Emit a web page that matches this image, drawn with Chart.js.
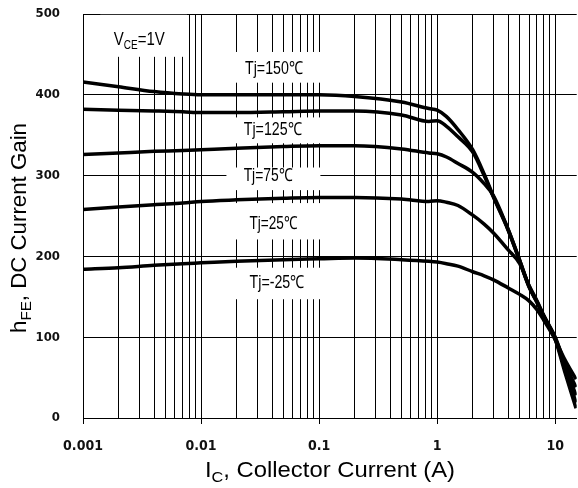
<!DOCTYPE html>
<html>
<head>
<meta charset="utf-8">
<script src="https://cdn.jsdelivr.net/npm/chart.js@4.4.1/dist/chart.umd.min.js"></script>
<style>
  html, body { margin: 0; padding: 0; background: #fff; }
  .wrap { position: relative; width: 578px; height: 488px; }
</style>
</head>
<body>
<div class="wrap"><canvas id="gain"></canvas></div>
<script>
// Ic, collector current (A)
const currentA = [0.001, 0.002, 0.004, 0.007, 0.01, 0.02, 0.05, 0.1, 0.2, 0.5, 0.85, 1, 1.2, 1.5, 2, 2.5, 3, 4, 5, 6, 7, 8, 10, 12, 15];

// hFE at VCE=1V, one list per junction temperature
const hfe150 = [416, 410, 404, 401, 400, 400, 400, 400, 398, 391, 383, 381, 373, 357, 332, 302, 274, 233, 195, 163, 144, 126, 97, 58, 12];
const hfe125 = [382, 381, 380, 379, 378, 378, 379, 380, 380, 375, 367, 368, 361, 348, 329, 300, 273, 232, 194, 162, 143, 125, 98, 62, 19];
const hfe75 = [326, 328, 330, 331, 332, 334, 336, 337, 337, 333, 328, 327, 323, 315, 304, 290, 275, 233, 195, 163, 144, 126, 99, 66, 28];
const hfe25 = [258, 261, 264, 266, 268, 270, 272, 273, 273, 271, 268, 269, 267, 263, 251, 240, 229, 208, 191, 164, 145, 127, 100, 69, 38];
const hfeMinus25 = [184, 186, 189, 191, 192, 194, 196, 197, 198, 196, 194, 193, 191, 188, 181, 176, 171, 161, 153, 145, 134, 121, 97, 73, 48];

const seriesNames = ['Tj=150℃', 'Tj=125℃', 'Tj=75℃', 'Tj=25℃', 'Tj=-25℃'];
const seriesValues = [hfe150, hfe125, hfe75, hfe25, hfeMinus25];

const xDecades = [0.001, 0.01, 0.1, 1, 10];
const xTickLabels = ['0.001', '0.01', '0.1', '1', '10'];
const xMax = 15.2;
const yMax = 500;

// where the curve names sit (data units) and the white patch behind each one
const notes = [
  { x: 0.0415, y: 432, w: 58, box: [0.0164, 0.1025, 453, 415] },
  { x: 0.0405, y: 356, w: 58, box: [0.0164, 0.1025, 372, 340] },
  { x: 0.037, y: 300, w: 49, box: [0.0164, 0.1025, 310, 282] },
  { x: 0.041, y: 240, w: 48, box: [0.0164, 0.1025, 266, 221] },
  { x: 0.044, y: 167, w: 55, box: [0.0164, 0.1025, 186, 147] }
];

const gridColor = '#000';
const narrowFont = "'Liberation Sans Narrow', 'Arial Narrow', 'DejaVu Sans Condensed', sans-serif";
const titleFont = "'Liberation Sans', Arial, sans-serif";

// text squeezed to a given width, with optional subscript parts
function drawSqueezed(ctx, parts, cx, cy, width, size, weight) {
  const fontFor = sub => (weight || '') + ' ' + (sub ? Math.round(size * 0.66) : size) + 'px ' + titleFont;
  let natural = 0;
  parts.forEach(p => { ctx.font = fontFor(p.sub); natural += ctx.measureText(p.t).width; });
  ctx.save();
  ctx.translate(cx, cy);
  ctx.scale(width / natural, 1);
  ctx.fillStyle = '#000';
  ctx.textBaseline = 'middle';
  ctx.textAlign = 'left';
  let pos = -natural / 2;
  parts.forEach(p => {
    ctx.font = fontFor(p.sub);
    ctx.fillText(p.t, pos, p.sub ? size * 0.3 : 0);
    pos += ctx.measureText(p.t).width;
  });
  ctx.restore();
}

const annotations = {
  id: 'annotations',
  beforeDatasetsDraw(chart) {
    const { ctx, scales: { x, y } } = chart;
    ctx.save();
    ctx.fillStyle = '#fff';
    notes.forEach(n => {
      const x0 = x.getPixelForValue(n.box[0]), x1 = x.getPixelForValue(n.box[1]);
      const y0 = y.getPixelForValue(n.box[2]), y1 = y.getPixelForValue(n.box[3]);
      ctx.fillRect(x0, y0, x1 - x0, y1 - y0);
    });
    // VCE patch
    const vx0 = x.getPixelForValue(0.0014), vx1 = x.getPixelForValue(0.0076);
    ctx.fillRect(vx0, y.getPixelForValue(499), vx1 - vx0, y.getPixelForValue(447) - y.getPixelForValue(499));
    ctx.restore();

    notes.forEach((n, i) => {
      drawSqueezed(ctx, [{ t: seriesNames[i] }], x.getPixelForValue(n.x), y.getPixelForValue(n.y), n.w, 18);
    });
    drawSqueezed(ctx, [{ t: 'V' }, { t: 'CE', sub: true }, { t: '=1V' }],
      x.getPixelForValue(0.003), y.getPixelForValue(468), 51, 18);
  },
  afterDraw(chart) {
    const { ctx } = chart;
    // axis titles
    ctx.save();
    ctx.translate(20, 228);
    ctx.rotate(-Math.PI / 2);
    drawSqueezed(ctx, [{ t: 'h' }, { t: 'FE', sub: true }, { t: ', DC Current Gain' }], 0, 0, 210, 22);
    ctx.restore();
    drawSqueezed(ctx, [{ t: 'I' }, { t: 'C', sub: true }, { t: ', Collector Current (A)' }], 330, 471, 250, 22);
  }
};

const xTicks = [];
xDecades.forEach(d => {
  for (let k = 1; k <= 9; k++) {
    const v = +(d * k).toPrecision(3);
    if (v <= xMax) xTicks.push(v);
  }
});

const data = {
  datasets: seriesValues.map((vals, i) => ({
    label: seriesNames[i],
    data: currentA.map((c, j) => ({ x: c, y: vals[j] })),
    showLine: true,
    borderColor: '#000',
    borderWidth: 3.5,
    pointRadius: 0,
    fill: false,
    cubicInterpolationMode: 'monotone'
  }))
};

const config = {
  type: 'scatter',
  data: data,
  options: {
    responsive: false,
    animation: false,
    layout: { autoPadding: false, padding: { top: 14, right: 0, left: 0, bottom: 0 } },
    scales: {
      x: {
        type: 'logarithmic',
        min: 0.001,
        max: xMax,
        afterFit: s => { s.height = 70; },
        afterBuildTicks: s => { s.ticks = xTicks.map(v => ({ value: v })); },
        grid: {
          color: gridColor,
          lineWidth: 1,
          tickLength: 6,
          tickColor: c => xDecades.some(d => Math.abs(c.tick.value / d - 1) < 1e-6) ? gridColor : 'rgba(0,0,0,0)'
        },
        border: { display: true, color: gridColor, width: 1 },
        ticks: {
          autoSkip: false,
          maxRotation: 0,
          padding: 14,
          color: '#111',
          font: { family: narrowFont, size: 14, weight: 'bold' },
          callback: v => {
            const i = xDecades.findIndex(d => Math.abs(v / d - 1) < 1e-6);
            return i >= 0 ? xTickLabels[i] : '';
          }
        }
      },
      y: {
        min: 0,
        max: yMax,
        afterFit: s => { s.width = 83; },
        // invisible tick marks keep the labels off the axis without padding the top
        grid: { color: gridColor, lineWidth: 1, drawTicks: true, tickLength: 23, tickColor: 'rgba(0,0,0,0)' },
        border: { display: true, color: gridColor, width: 1 },
        ticks: {
          stepSize: 100,
          padding: 0,
          color: '#111',
          font: { family: narrowFont, size: 13, weight: 'bold' }
        }
      }
    },
    plugins: {
      legend: { display: false },
      tooltip: { enabled: false }
    }
  },
  plugins: [annotations]
};

const canvas = document.getElementById('gain');
canvas.width = 578;
canvas.height = 488;
new Chart(canvas, config);
</script>
</body>
</html>
